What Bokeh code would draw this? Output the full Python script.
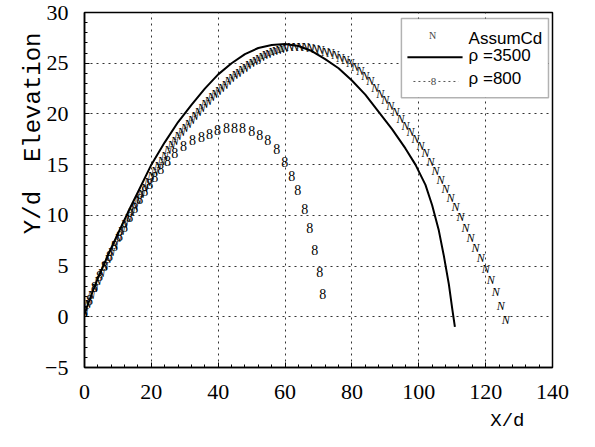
from bokeh.plotting import figure
from bokeh.models import Range1d, Label, BoxAnnotation, Arrow, FixedTicker, Title
from bokeh.core.properties import value
from bokeh.embed import file_html
from bokeh.resources import INLINE

# ---- data ----
x_assum = [0, 1, 2, 3, 4, 5, 6, 7, 8, 9, 10, 11, 12, 13, 14, 15, 16, 17, 18, 19, 20,
           21, 22, 23, 24, 25, 26, 27, 28, 29, 30, 31, 32, 33, 34, 35, 36, 37, 38, 39, 40,
           41, 42, 43, 44, 45, 46, 47, 48, 49, 50, 51, 52, 53, 54, 55, 56, 57, 58, 59, 60,
           61.5, 63, 64.5, 66, 67.5, 69, 70.5, 72, 73.5, 75, 76.5, 78, 79.5, 81, 82.5, 84,
           85.5, 87, 88.5, 90, 91.5, 93, 94.5, 96, 97.5, 99, 100.5, 102, 103.5, 105, 106.5,
           108, 109.5, 111, 112.5, 114, 115.5, 117, 118.5, 120, 121.5, 123, 124.5, 126]
y_assum = [0.5, 1.3, 2.1, 2.8, 3.5, 4.3, 5.0, 5.7, 6.4, 7.1, 7.8, 8.5, 9.1, 9.7, 10.3, 10.9,
           11.5, 12.1, 12.7, 13.3, 13.9, 14.4, 14.9, 15.4, 15.9, 16.4, 16.9, 17.3, 17.8, 18.2,
           18.6, 19.0, 19.4, 19.8, 20.2, 20.6, 21.0, 21.3, 21.7, 22.0, 22.3, 22.6, 22.9, 23.2,
           23.5, 23.8, 24.0, 24.3, 24.5, 24.8, 25.0, 25.2, 25.4, 25.6, 25.8, 25.9, 26.1, 26.2,
           26.3, 26.4, 26.5,
           26.6, 26.6, 26.6, 26.55, 26.5, 26.4, 26.3, 26.15, 26.0, 25.8, 25.55, 25.3, 25.0,
           24.6, 24.2, 23.7, 23.2, 22.6, 22.0, 21.4, 20.8, 20.2, 19.5, 18.8, 18.2, 17.5, 16.8,
           16.1, 15.3, 14.4, 13.5, 12.6, 11.7, 10.8, 9.8, 8.8, 7.8, 6.8, 5.8, 4.7, 3.6, 2.4,
           1.1, -0.3]

x_3500 = [0, 2, 4, 6, 8, 10, 13, 16, 20, 24, 28, 32, 36, 40, 44, 48, 52, 56, 60, 64, 68,
          72, 76, 80, 84, 88, 92, 96, 99, 102, 104, 106, 107.5, 109, 110, 110.8]
y_3500 = [0.3, 2.1, 3.8, 5.3, 6.8, 8.2, 10.3, 12.3, 15.0, 17.2, 19.2, 20.9, 22.5, 23.9,
          25.0, 25.9, 26.5, 26.8, 26.9, 26.7, 26.2, 25.4, 24.5, 23.3, 21.9, 20.2, 18.5,
          16.6, 15.0, 13.0, 11.0, 8.5, 6.0, 3.2, 0.8, -1.0]

x_800 = [0, 1.5, 3, 4.5, 6, 7.5, 9, 10.5, 12, 13.5, 15, 16.5, 18, 19.5, 21, 22.8, 24.8,
         27, 29.6, 32.3, 35, 37.4, 39.8, 42.5, 44.9, 47.3, 50, 52.4, 54.8, 57.5, 59.9,
         62, 63.8, 65.9, 67.4, 68.9, 70.4, 71.3]
y_800 = [0.5, 1.7, 2.9, 4.0, 5.0, 6.0, 7.0, 8.0, 8.9, 9.8, 10.7, 11.6, 12.4, 13.1, 13.8,
         14.6, 15.4, 16.1, 16.8, 17.4, 17.7, 18.0, 18.4, 18.6, 18.65, 18.6, 18.3, 17.9,
         17.4, 16.5, 15.3, 13.9, 12.5, 10.6, 8.8, 6.6, 4.4, 2.2]

x_ticks = [0, 20, 40, 60, 80, 100, 120, 140]
y_ticks = [-5, 0, 5, 10, 15, 20, 25, 30]
x_minor = [0, 4, 8, 12, 16, 20, 24, 28, 32, 36, 40, 44, 48, 52, 56, 60, 64, 68, 72, 76, 80,
           84, 88, 92, 96, 100, 104, 108, 112, 116, 120, 124, 128, 132, 136, 140]
y_minor = [-5, -4, -3, -2, -1, 0, 1, 2, 3, 4, 5, 6, 7, 8, 9, 10, 11, 12, 13, 14, 15, 16, 17,
           18, 19, 20, 21, 22, 23, 24, 25, 26, 27, 28, 29, 30]

series_labels = ["AssumCd", "\u03c1 =3500", "\u03c1 =800"]

SERIF = "'Liberation Serif', 'DejaVu Serif', serif"
MONO = "'Liberation Mono', 'DejaVu Sans Mono', monospace"
SANS = "'Liberation Sans', Arial, sans-serif"

# ---- figure ----
p = figure(width=587, height=439, output_backend="svg", toolbar_location=None,
           x_range=Range1d(0, 140), y_range=Range1d(-5, 30),
           min_border_left=84, min_border_right=35, min_border_top=12, min_border_bottom=72)
p.background_fill_color = "white"
p.border_fill_color = "white"
p.outline_line_color = "black"
p.outline_line_width = 1.5

p.xaxis.ticker = FixedTicker(ticks=x_ticks, minor_ticks=x_minor)
p.yaxis.ticker = FixedTicker(ticks=y_ticks, minor_ticks=y_minor)
for ax in (p.xaxis[0], p.yaxis[0]):
    ax.major_label_text_font = SERIF
    ax.major_label_text_font_size = "22px"
    ax.major_label_text_color = "black"
    ax.major_tick_in = 5
    ax.major_tick_out = 0
    ax.minor_tick_in = 3
    ax.minor_tick_out = 0
    ax.axis_line_width = 1.5
    ax.axis_line_color = "black"
    ax.major_tick_line_color = "black"
    ax.minor_tick_line_color = "black"
p.xaxis.major_label_standoff = 17
p.yaxis.major_label_standoff = 16

for g in (p.xgrid[0], p.ygrid[0]):
    g.grid_line_color = "#333333"
    g.grid_line_dash = "2 4"
    g.grid_line_width = 1

# ---- axis titles ----
p.add_layout(Title(text="Y/d\u00a0\u00a0Elevation", align="right", offset=20,
                   text_font=MONO, text_font_size="24px", text_font_style="normal",
                   text_color="black", standoff=-9), "left")
p.add_layout(Title(text="X/d", align="right", offset=28,
                   text_font=MONO, text_font_size="19px", text_font_style="normal",
                   text_color="black", standoff=12), "below")

# ---- series ----
p.line(x_3500, y_3500, line_color="black", line_width=2)
p.text(x=x_assum, y=y_assum, text=value("N"), text_font=value(SERIF),
       text_font_size="12px", text_font_style="italic", text_align="center",
       text_baseline="middle", text_color="black", outline_color=None,
       border_line_color=None, background_fill_color=None)
p.text(x=x_800, y=y_800, text=value("8"), text_font=value(SERIF),
       text_font_size="14px", text_align="center", text_baseline="middle",
       text_color="black", outline_color=None,
       border_line_color=None, background_fill_color=None)

# ---- legend (manual) ----
p.add_layout(BoxAnnotation(left=94.8, right=138.8, bottom=21.6, top=29.4,
                           fill_color="white", fill_alpha=1.0,
                           line_color="black", line_width=1.5))
p.add_layout(Label(x=104.1, y=27.75, text="N", text_font=SERIF,
                   text_font_size="10px", text_align="center", text_baseline="middle"))
p.add_layout(Arrow(start=None, end=None, x_start=96.6, y_start=25.58, x_end=113.1, y_end=25.58,
                   line_color="black", line_width=2))
p.add_layout(Arrow(start=None, end=None, x_start=98.4, y_start=23.2, x_end=111.9, y_end=23.2,
                   line_color="#555555", line_width=1, line_dash="2 3"))
p.add_layout(Label(x=104.4, y=23.2, text="8", text_font=SERIF,
                   text_font_size="11px", text_align="center", text_baseline="middle",
                   background_fill_color="white", background_fill_alpha=1.0))
for lab, yy in zip(series_labels, [27.45, 25.78, 23.46]):
    p.add_layout(Label(x=114.9, y=yy, text=lab, text_font=SANS, text_font_size="17px",
                       text_align="left", text_baseline="middle", text_color="black"))

open("out.html", "w").write(file_html(p, INLINE))
